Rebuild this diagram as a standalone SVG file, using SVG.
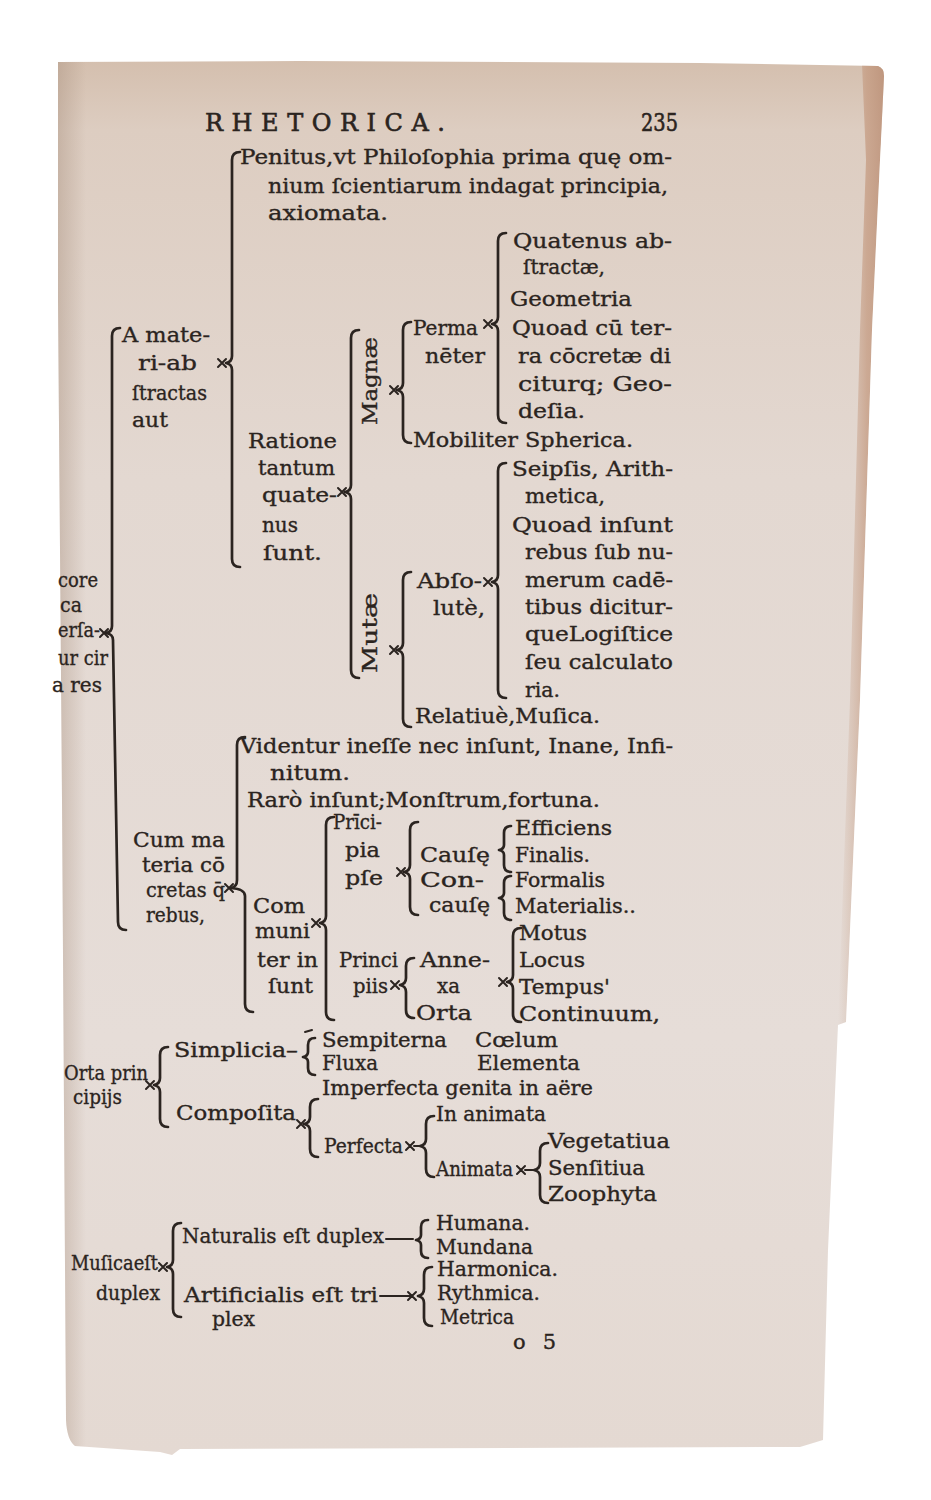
<svg xmlns="http://www.w3.org/2000/svg" width="931" height="1500" viewBox="0 0 931 1500">
<defs>
<linearGradient id="paperV" x1="0" y1="0" x2="0" y2="1">
<stop offset="0" stop-color="#d4bfae"/>
<stop offset="0.05" stop-color="#ddcdc1"/>
<stop offset="0.3" stop-color="#e3d8d1"/>
<stop offset="0.7" stop-color="#e6ddd8"/>
<stop offset="1" stop-color="#e4d9d2"/>
</linearGradient>
<linearGradient id="leftShade" x1="0" y1="0" x2="1" y2="0">
<stop offset="0" stop-color="#a8907e" stop-opacity="0.45"/>
<stop offset="1" stop-color="#a8907e" stop-opacity="0"/>
</linearGradient>
<linearGradient id="rightStrip" x1="0" y1="0" x2="1" y2="0">
<stop offset="0" stop-color="#c9a690" stop-opacity="0"/>
<stop offset="0.6" stop-color="#c3977c" stop-opacity="0.7"/>
<stop offset="1" stop-color="#b88a70" stop-opacity="0.8"/>
</linearGradient>
<clipPath id="pageClip">
<path d="M58,62 L300,61 L700,63 L878,66 Q884,68 884,76 L880,160 L872,330 L860,700 L846,1022 L838,1025 L828,1250 L823,1440 L800,1447 L180,1449 L172,1455 L160,1452 L75,1446 Q67,1440 66,1420 L62,800 L58,300 Z"/>
</clipPath>
</defs>
<style>
.t{font-family:"DejaVu Serif","Liberation Serif",serif;font-size:21px;fill:#2b2420;stroke:#2b2420;stroke-width:0.35}
.h{font-family:"DejaVu Serif","Liberation Serif",serif;font-size:24px;fill:#2b2420;stroke:#2b2420;stroke-width:0.6}
.br{fill:none;stroke:#2b2420;stroke-width:2.7;stroke-linecap:round;stroke-linejoin:round}
.st{fill:none;stroke:#2b2420;stroke-width:2;stroke-linecap:round}
</style>
<rect x="0" y="0" width="931" height="1500" fill="#ffffff"/>
<g id="page">
<path d="M58,62 L300,61 L700,63 L878,66 Q884,68 884,76 L880,160 L872,330 L860,700 L846,1022 L838,1025 L828,1250 L823,1440 L800,1447 L180,1449 L172,1455 L160,1452 L75,1446 Q67,1440 66,1420 L62,800 L58,300 Z" fill="url(#paperV)"/>
<g clip-path="url(#pageClip)">
<rect x="56" y="60" width="30" height="1400" fill="url(#leftShade)"/>
<path d="M862,64 L886,64 L880,160 L872,330 L860,700 L846,1024 L838,1024 L850,700 L860,330 L866,160 Z" fill="url(#rightStrip)"/>
</g>
</g>
<g id="header">
<text class="h" x="205" y="131" textLength="240" lengthAdjust="spacing">RHETORICA.</text>
<text class="h" x="641" y="131" textLength="37" lengthAdjust="spacingAndGlyphs">235</text>
</g>
<g id="connectors">
<path class="br" d="M240,152 Q232,152 232,160 L232,356 Q232,362 226,363 Q232,364 232,370 L232,559 Q232,567 240,567"/>
<path class="st" d="M218,359 L226,367 M218,367 L226,359"/>
<path class="br" d="M120,328 Q112,328 112,336 L112,626 Q112,632 106,633 Q113,634 113,640 L118,922 Q118,930 126,930"/>
<path class="st" d="M100,629 L108,637 M100,637 L108,629"/>
<path class="br" d="M359,330 Q351,330 351,338 L351,485 Q351,491 345,492 Q351,493 351,499 L351,670 Q351,678 359,678"/>
<path class="st" d="M338,488 L346,496 M338,496 L346,488"/>
<path class="br" d="M411,322 Q403,322 403,330 L403,383 Q403,389 397,390 Q403,391 403,397 L403,435 Q403,443 411,443"/>
<path class="st" d="M390,386 L398,394 M390,394 L398,386"/>
<path class="br" d="M506,233 Q498,233 498,241 L498,317 Q498,323 492,324 Q498,325 498,331 L498,415 Q498,423 506,423"/>
<path class="st" d="M484,320 L492,328 M484,328 L492,320"/>
<path class="br" d="M411,572 Q403,572 403,580 L403,643 Q403,649 397,650 Q403,651 403,657 L403,719 Q403,727 411,727"/>
<path class="st" d="M390,646 L398,654 M390,654 L398,646"/>
<path class="br" d="M506,463 Q498,463 498,471 L498,575 Q498,581 492,582 Q498,583 498,589 L498,690 Q498,698 506,698"/>
<path class="st" d="M484,578 L492,586 M484,586 L492,578"/>
<path class="br" d="M245,737 Q237,737 237,745 L237,880 Q237,887 231,888 Q245,889 245,896 L245,1004 Q245,1012 253,1012"/>
<path class="st" d="M225,884 L233,892 M225,892 L233,884"/>
<path class="br" d="M334,817 Q326,817 326,825 L326,916 Q326,922 320,923 Q326,924 326,930 L326,1012 Q326,1020 334,1020"/>
<path class="st" d="M312,919 L320,927 M312,927 L320,919"/>
<path class="br" d="M418,822 Q410,822 410,830 L410,865 Q410,871 404,872 Q410,873 410,879 L410,907 Q410,915 418,915"/>
<path class="st" d="M397,868 L405,876 M397,876 L405,868"/>
<path class="br" d="M511,826 Q504,826 504,833 L504,845 Q504,849 499,850 Q504,851 504,855 L504,865 Q504,872 511,872"/>
<path class="br" d="M511,876 Q504,876 504,883 L504,893 Q504,897 499,898 Q504,899 504,903 L504,913 Q504,920 511,920"/>
<path class="br" d="M521,928 Q513,928 513,936 L513,975 Q513,981 507,982 Q513,983 513,989 L513,1014 Q513,1022 521,1022"/>
<path class="st" d="M499,978 L507,986 M499,986 L507,978"/>
<path class="br" d="M414,958 Q406,958 406,966 L406,978 Q406,984 400,985 Q406,986 406,992 L406,1010 Q406,1018 414,1018"/>
<path class="st" d="M391,981 L399,989 M391,989 L399,981"/>
<path class="br" d="M168,1047 Q160,1047 160,1055 L160,1078 Q160,1084 154,1085 Q160,1086 160,1092 L160,1119 Q160,1127 168,1127"/>
<path class="st" d="M146,1081 L154,1089 M146,1089 L154,1081"/>
<path class="br" d="M315,1038 Q308,1038 308,1045 L308,1052 Q308,1056 303,1057 Q308,1058 308,1062 L308,1068 Q308,1075 315,1075"/>
<path class="st" d="M305,1032 L312,1030"/>
<path class="br" d="M318,1099 Q310,1099 310,1107 L310,1117 Q310,1123 304,1124 Q310,1125 310,1131 L310,1149 Q310,1157 318,1157"/>
<path class="st" d="M297,1120 L305,1128 M297,1128 L305,1120"/>
<path class="br" d="M434,1116 Q426,1116 426,1124 L426,1139 Q426,1145 420,1146 Q426,1147 426,1153 L426,1169 Q426,1177 434,1177"/>
<path class="st" d="M406,1142 L414,1150 M406,1150 L414,1142 M414,1146 L420,1146"/>
<path class="br" d="M548,1143 Q540,1143 540,1151 L540,1163 Q540,1169 534,1170 Q540,1171 540,1177 L540,1195 Q540,1203 548,1203"/>
<path class="st" d="M517,1166 L525,1174 M517,1174 L525,1166 M525,1170 L534,1170"/>
<path class="br" d="M181,1223 Q173,1223 173,1231 L173,1260 Q173,1266 167,1267 Q173,1268 173,1274 L173,1309 Q173,1317 181,1317"/>
<path class="st" d="M159,1263 L167,1271 M159,1271 L167,1263"/>
<path class="br" d="M428,1220 Q421,1220 421,1227 L421,1235 Q421,1239 416,1240 Q421,1241 421,1245 L421,1251 Q421,1258 428,1258"/>
<path class="st" d="M386,1239 L413,1239"/>
<path class="br" d="M432,1267 Q424,1267 424,1275 L424,1289 Q424,1295 418,1296 Q424,1297 424,1303 L424,1318 Q424,1326 432,1326"/>
<path class="st" d="M380,1296 L412,1296 M408,1292 L416,1300 M408,1300 L416,1292"/>
</g>
<g id="n_penitus">
<text class="t" x="240" y="164" textLength="432" lengthAdjust="spacingAndGlyphs">Penitus,vt Philoſophia prima quę om-</text>
<text class="t" x="268" y="193" textLength="400" lengthAdjust="spacingAndGlyphs">nium ſcientiarum indagat principia,</text>
<text class="t" x="268" y="220" textLength="120" lengthAdjust="spacingAndGlyphs">axiomata.</text>
</g>
<g id="n_amateria">
<text class="t" x="122" y="342" textLength="88" lengthAdjust="spacingAndGlyphs">A mate-</text>
<text class="t" x="138" y="370" textLength="59" lengthAdjust="spacingAndGlyphs">ri-ab</text>
<text class="t" x="132" y="400" textLength="75" lengthAdjust="spacingAndGlyphs">ſtractas</text>
<text class="t" x="132" y="427" textLength="36" lengthAdjust="spacingAndGlyphs">aut</text>
</g>
<g id="n_theorica">
<text class="t" x="58" y="587" textLength="40" lengthAdjust="spacingAndGlyphs">core</text>
<text class="t" x="60" y="612" textLength="22" lengthAdjust="spacingAndGlyphs">ca</text>
<text class="t" x="58" y="637" textLength="42" lengthAdjust="spacingAndGlyphs">erſa-</text>
<text class="t" x="58" y="665" textLength="50" lengthAdjust="spacingAndGlyphs">ur cir</text>
<text class="t" x="52" y="692" textLength="50" lengthAdjust="spacingAndGlyphs">a res</text>
</g>
<g id="n_ratione">
<text class="t" x="248" y="448" textLength="89" lengthAdjust="spacingAndGlyphs">Ratione</text>
<text class="t" x="258" y="475" textLength="77" lengthAdjust="spacingAndGlyphs">tantum</text>
<text class="t" x="262" y="502" textLength="75" lengthAdjust="spacingAndGlyphs">quate-</text>
<text class="t" x="262" y="532" textLength="36" lengthAdjust="spacingAndGlyphs">nus</text>
<text class="t" x="263" y="560" textLength="59" lengthAdjust="spacingAndGlyphs">ſunt.</text>
</g>
<g id="n_magnae">
<text class="t" transform="translate(377,381) rotate(-90)" text-anchor="middle" textLength="88" lengthAdjust="spacingAndGlyphs">Magnæ</text>
</g>
<g id="n_mutae">
<text class="t" transform="translate(377,633) rotate(-90)" text-anchor="middle" textLength="80" lengthAdjust="spacingAndGlyphs">Mutæ</text>
</g>
<g id="n_perma">
<text class="t" x="413" y="335" textLength="65" lengthAdjust="spacingAndGlyphs">Perma</text>
<text class="t" x="425" y="363" textLength="60" lengthAdjust="spacingAndGlyphs">nēter</text>
</g>
<g id="n_quatenus">
<text class="t" x="513" y="248" textLength="159" lengthAdjust="spacingAndGlyphs">Quatenus ab-</text>
<text class="t" x="523" y="274" textLength="82" lengthAdjust="spacingAndGlyphs">ſtractæ,</text>
<text class="t" x="510" y="306" textLength="122" lengthAdjust="spacingAndGlyphs">Geometria</text>
</g>
<g id="n_quoad">
<text class="t" x="512" y="335" textLength="160" lengthAdjust="spacingAndGlyphs">Quoad cū ter-</text>
<text class="t" x="518" y="363" textLength="153" lengthAdjust="spacingAndGlyphs">ra cōcretæ di</text>
<text class="t" x="518" y="391" textLength="154" lengthAdjust="spacingAndGlyphs">citurq; Geo-</text>
<text class="t" x="518" y="418" textLength="67" lengthAdjust="spacingAndGlyphs">deſia.</text>
</g>
<g id="n_mobiliter">
<text class="t" x="413" y="447" textLength="220" lengthAdjust="spacingAndGlyphs">Mobiliter Spherica.</text>
</g>
<g id="n_seipsis">
<text class="t" x="512" y="476" textLength="161" lengthAdjust="spacingAndGlyphs">Seipſis, Arith-</text>
<text class="t" x="525" y="503" textLength="80" lengthAdjust="spacingAndGlyphs">metica,</text>
</g>
<g id="n_quoad_insunt">
<text class="t" x="512" y="532" textLength="161" lengthAdjust="spacingAndGlyphs">Quoad inſunt</text>
<text class="t" x="525" y="559" textLength="148" lengthAdjust="spacingAndGlyphs">rebus ſub nu-</text>
<text class="t" x="525" y="587" textLength="148" lengthAdjust="spacingAndGlyphs">merum cadē-</text>
<text class="t" x="525" y="614" textLength="148" lengthAdjust="spacingAndGlyphs">tibus dicitur-</text>
<text class="t" x="525" y="641" textLength="148" lengthAdjust="spacingAndGlyphs">queLogiſtice</text>
<text class="t" x="525" y="669" textLength="148" lengthAdjust="spacingAndGlyphs">ſeu calculato</text>
<text class="t" x="525" y="697" textLength="35" lengthAdjust="spacingAndGlyphs">ria.</text>
</g>
<g id="n_abso">
<text class="t" x="417" y="588" textLength="65" lengthAdjust="spacingAndGlyphs">Abſo-</text>
<text class="t" x="433" y="615" textLength="52" lengthAdjust="spacingAndGlyphs">lutè,</text>
</g>
<g id="n_relatiue">
<text class="t" x="415" y="723" textLength="185" lengthAdjust="spacingAndGlyphs">Relatiuè,Muſica.</text>
</g>
<g id="n_videntur">
<text class="t" x="240" y="753" textLength="433" lengthAdjust="spacingAndGlyphs">Videntur ineſſe nec inſunt, Inane, Infi-</text>
<text class="t" x="270" y="780" textLength="80" lengthAdjust="spacingAndGlyphs">nitum.</text>
</g>
<g id="n_raro">
<text class="t" x="247" y="807" textLength="353" lengthAdjust="spacingAndGlyphs">Rarò inſunt;Monſtrum,fortuna.</text>
</g>
<g id="n_cum">
<text class="t" x="133" y="847" textLength="92" lengthAdjust="spacingAndGlyphs">Cum ma</text>
<text class="t" x="142" y="872" textLength="83" lengthAdjust="spacingAndGlyphs">teria cō</text>
<text class="t" x="146" y="897" textLength="79" lengthAdjust="spacingAndGlyphs">cretas q̄</text>
<text class="t" x="146" y="922" textLength="59" lengthAdjust="spacingAndGlyphs">rebus,</text>
</g>
<g id="n_com">
<text class="t" x="253" y="913" textLength="52" lengthAdjust="spacingAndGlyphs">Com</text>
<text class="t" x="255" y="938" textLength="55" lengthAdjust="spacingAndGlyphs">muni</text>
<text class="t" x="257" y="967" textLength="61" lengthAdjust="spacingAndGlyphs">ter in</text>
<text class="t" x="268" y="993" textLength="45" lengthAdjust="spacingAndGlyphs">ſunt</text>
</g>
<g id="n_principia">
<text class="t" x="333" y="829" textLength="49" lengthAdjust="spacingAndGlyphs">Prīci-</text>
<text class="t" x="345" y="857" textLength="35" lengthAdjust="spacingAndGlyphs">pia</text>
<text class="t" x="345" y="885" textLength="38" lengthAdjust="spacingAndGlyphs">pſe</text>
</g>
<g id="n_causae">
<text class="t" x="420" y="862" textLength="70" lengthAdjust="spacingAndGlyphs">Cauſę</text>
<text class="t" x="420" y="887" textLength="64" lengthAdjust="spacingAndGlyphs">Con-</text>
<text class="t" x="429" y="912" textLength="61" lengthAdjust="spacingAndGlyphs">cauſę</text>
</g>
<g id="n_efficiens">
<text class="t" x="515" y="835" textLength="97" lengthAdjust="spacingAndGlyphs">Efficiens</text>
<text class="t" x="515" y="862" textLength="75" lengthAdjust="spacingAndGlyphs">Finalis.</text>
</g>
<g id="n_formalis">
<text class="t" x="515" y="887" textLength="90" lengthAdjust="spacingAndGlyphs">Formalis</text>
<text class="t" x="515" y="913" textLength="121" lengthAdjust="spacingAndGlyphs">Materialis..</text>
</g>
<g id="n_principiis">
<text class="t" x="339" y="967" textLength="59" lengthAdjust="spacingAndGlyphs">Princi</text>
<text class="t" x="353" y="993" textLength="35" lengthAdjust="spacingAndGlyphs">piis</text>
</g>
<g id="n_annexa">
<text class="t" x="420" y="967" textLength="70" lengthAdjust="spacingAndGlyphs">Anne-</text>
<text class="t" x="437" y="993" textLength="23" lengthAdjust="spacingAndGlyphs">xa</text>
<text class="t" x="416" y="1020" textLength="56" lengthAdjust="spacingAndGlyphs">Orta</text>
</g>
<g id="n_motus">
<text class="t" x="519" y="940" textLength="68" lengthAdjust="spacingAndGlyphs">Motus</text>
<text class="t" x="519" y="967" textLength="66" lengthAdjust="spacingAndGlyphs">Locus</text>
<text class="t" x="519" y="994" textLength="91" lengthAdjust="spacingAndGlyphs">Tempus'</text>
<text class="t" x="519" y="1021" textLength="141" lengthAdjust="spacingAndGlyphs">Continuum,</text>
</g>
<g id="n_orta">
<text class="t" x="64" y="1080" textLength="84" lengthAdjust="spacingAndGlyphs">Orta prin</text>
<text class="t" x="73" y="1104" textLength="49" lengthAdjust="spacingAndGlyphs">cipijs</text>
</g>
<g id="n_simplicia">
<text class="t" x="174" y="1057" textLength="124" lengthAdjust="spacingAndGlyphs">Simplicia–</text>
</g>
<g id="n_sempiterna">
<text class="t" x="322" y="1047" textLength="125" lengthAdjust="spacingAndGlyphs">Sempiterna</text>
<text class="t" x="322" y="1070" textLength="56" lengthAdjust="spacingAndGlyphs">Fluxa</text>
</g>
<g id="n_coelum">
<text class="t" x="475" y="1047" textLength="83" lengthAdjust="spacingAndGlyphs">Cœlum</text>
<text class="t" x="477" y="1070" textLength="103" lengthAdjust="spacingAndGlyphs">Elementa</text>
</g>
<g id="n_composita">
<text class="t" x="176" y="1120" textLength="120" lengthAdjust="spacingAndGlyphs">Compoſita</text>
</g>
<g id="n_imperfecta">
<text class="t" x="322" y="1095" textLength="271" lengthAdjust="spacingAndGlyphs">Imperfecta genita in aëre</text>
</g>
<g id="n_perfecta">
<text class="t" x="324" y="1153" textLength="79" lengthAdjust="spacingAndGlyphs">Perfecta</text>
</g>
<g id="n_inanimata">
<text class="t" x="436" y="1121" textLength="110" lengthAdjust="spacingAndGlyphs">In animata</text>
</g>
<g id="n_animata">
<text class="t" x="436" y="1176" textLength="77" lengthAdjust="spacingAndGlyphs">Animata</text>
</g>
<g id="n_vegetatiua">
<text class="t" x="548" y="1148" textLength="122" lengthAdjust="spacingAndGlyphs">Vegetatiua</text>
<text class="t" x="548" y="1175" textLength="97" lengthAdjust="spacingAndGlyphs">Senſitiua</text>
<text class="t" x="548" y="1201" textLength="109" lengthAdjust="spacingAndGlyphs">Zoophyta</text>
</g>
<g id="n_musica">
<text class="t" x="71" y="1270" textLength="87" lengthAdjust="spacingAndGlyphs">Muſicaeſt</text>
<text class="t" x="96" y="1300" textLength="64" lengthAdjust="spacingAndGlyphs">duplex</text>
</g>
<g id="n_naturalis">
<text class="t" x="182" y="1243" textLength="202" lengthAdjust="spacingAndGlyphs">Naturalis eſt duplex</text>
</g>
<g id="n_humana">
<text class="t" x="436" y="1230" textLength="94" lengthAdjust="spacingAndGlyphs">Humana.</text>
<text class="t" x="436" y="1254" textLength="97" lengthAdjust="spacingAndGlyphs">Mundana</text>
</g>
<g id="n_artificialis">
<text class="t" x="184" y="1302" textLength="194" lengthAdjust="spacingAndGlyphs">Artificialis eſt tri</text>
<text class="t" x="212" y="1326" textLength="43" lengthAdjust="spacingAndGlyphs">plex</text>
</g>
<g id="n_harmonica">
<text class="t" x="437" y="1276" textLength="121" lengthAdjust="spacingAndGlyphs">Harmonica.</text>
<text class="t" x="437" y="1300" textLength="103" lengthAdjust="spacingAndGlyphs">Rythmica.</text>
<text class="t" x="440" y="1324" textLength="74" lengthAdjust="spacingAndGlyphs">Metrica</text>
</g>
<g id="signature">
<text class="t" x="513" y="1349" textLength="43" lengthAdjust="spacing">o 5</text>
</g>
</svg>
